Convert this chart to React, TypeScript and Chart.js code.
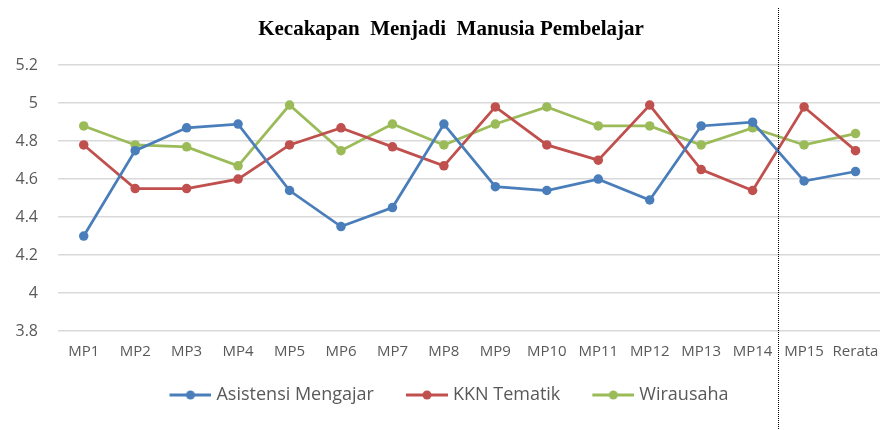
import { useEffect, useRef } from "react";
import { Chart, registerables } from "chart.js";

Chart.register(...registerables);

const categories = ["MP1", "MP2", "MP3", "MP4", "MP5", "MP6", "MP7", "MP8", "MP9", "MP10", "MP11", "MP12", "MP13", "MP14", "MP15", "Rerata"];
const asistensiMengajar = [4.30, 4.75, 4.87, 4.89, 4.54, 4.35, 4.45, 4.89, 4.56, 4.54, 4.60, 4.49, 4.88, 4.90, 4.59, 4.64];
const kknTematik = [4.78, 4.55, 4.55, 4.60, 4.78, 4.87, 4.77, 4.67, 4.98, 4.78, 4.70, 4.99, 4.65, 4.54, 4.98, 4.75];
const wirausaha = [4.88, 4.78, 4.77, 4.67, 4.99, 4.75, 4.89, 4.78, 4.89, 4.98, 4.88, 4.88, 4.78, 4.87, 4.78, 4.84];
const seriesNames = ["Asistensi Mengajar", "KKN Tematik", "Wirausaha"];
const seriesColors = ["#4a7ebb", "#c0504d", "#9bbb59"];
const yMin = 3.8;
const yMax = 5.2;
const yStep = 0.2;
const chartTitle = "Kecakapan  Menjadi  Manusia Pembelajar";
const dividerAfterIndex = 13;

const MARKER_GAP = 11;

function makeMarker(color: string): HTMLCanvasElement {
  const c = document.createElement("canvas");
  c.width = 42 + MARKER_GAP;
  c.height = 12;
  const ctx = c.getContext("2d")!;
  ctx.strokeStyle = color;
  ctx.lineWidth = 3;
  ctx.beginPath();
  ctx.moveTo(MARKER_GAP, 6);
  ctx.lineTo(MARKER_GAP + 42, 6);
  ctx.stroke();
  ctx.fillStyle = color;
  ctx.beginPath();
  ctx.arc(MARKER_GAP + 21, 6, 4.5, 0, Math.PI * 2);
  ctx.fill();
  return c;
}

const layoutPlugin = {
  id: "layoutTweak",
  afterLayout(chart: any) {
    if (chart.scales.y) chart.scales.y.left = 0;
    if (chart.legend) chart.legend.left -= MARKER_GAP + 4;
    if (chart.titleBlock) chart.titleBlock.right -= 4;
  },
};

const dividerPlugin = {
  id: "divider",
  afterDraw(chart: any) {
    const xs = chart.scales.x;
    const x = Math.round((xs.getPixelForValue(dividerAfterIndex) + xs.getPixelForValue(dividerAfterIndex + 1)) / 2) + 0.5;
    const ctx = chart.ctx;
    ctx.save();
    ctx.strokeStyle = "#000000";
    ctx.lineWidth = 1;
    ctx.setLineDash([1, 1]);
    ctx.beginPath();
    ctx.moveTo(x, 8);
    ctx.lineTo(x, chart.height);
    ctx.stroke();
    ctx.restore();
  },
};

export default function App() {
  const ref = useRef<HTMLCanvasElement>(null);
  useEffect(() => {
    document.body.style.margin = "0";
    const markers = seriesColors.map(makeMarker);
    const datasets = [asistensiMengajar, kknTematik, wirausaha].map((d, i) => ({
      label: seriesNames[i],
      data: d,
      borderColor: seriesColors[i],
      backgroundColor: seriesColors[i],
      borderWidth: 2.75,
      pointRadius: 4.75,
      pointBorderWidth: 0,
      pointBackgroundColor: seriesColors[i],
      tension: 0,
    }));
    const chart = new Chart(ref.current!, {
      type: "line",
      data: { labels: categories, datasets },
      plugins: [layoutPlugin, dividerPlugin],
      options: {
        animation: false,
        responsive: false,
        maintainAspectRatio: false,
        layout: { padding: { left: 20, right: 0, top: 0, bottom: 16 } },
        plugins: {
          title: {
            display: true,
            text: chartTitle,
            color: "#000000",
            font: { family: "'Liberation Serif', serif", size: 21, weight: "bold" },
            padding: { top: 17, bottom: 23 },
          },
          legend: {
            position: "bottom",
            labels: {
              usePointStyle: true,
              pointStyleWidth: 34 + MARKER_GAP,
              color: "#595959",
              font: { family: "'Open Sans', sans-serif", size: 18 },
              padding: 25,
              generateLabels: () =>
                seriesNames.map((n, i) => ({
                  text: n,
                  fillStyle: seriesColors[i],
                  strokeStyle: seriesColors[i],
                  lineWidth: 0,
                  pointStyle: markers[i],
                  hidden: false,
                  datasetIndex: i,
                  fontColor: "#595959",
                })),
            },
          },
          tooltip: { enabled: false },
        },
        scales: {
          x: {
            offset: true,
            grid: { display: false, drawTicks: false },
            border: { display: false },
            afterFit: (s: any) => {
              s.height = 30;
              s.paddingLeft = 0;
              s.paddingRight = 0;
            },
            ticks: {
              color: "#595959",
              font: { family: "'Open Sans', sans-serif", size: 15 },
              padding: 12,
              autoSkip: false,
              maxRotation: 0,
            },
          },
          y: {
            min: yMin,
            max: yMax,
            border: { display: false },
            grid: { color: "#d9d9d9", lineWidth: 1.5, drawTicks: false },
            afterFit: (s: any) => {
              s.width = 38;
            },
            ticks: {
              stepSize: yStep,
              color: "#595959",
              font: { family: "'Open Sans', sans-serif", size: 16 },
              padding: 20,
              callback: (v: any) => String(Number(Number(v).toFixed(1))),
            },
          },
        },
      },
    });
    return () => chart.destroy();
  }, []);
  return (
    <div style={{ width: 880, height: 430, overflow: "hidden", position: "relative", background: "#ffffff" }}>
      <canvas ref={ref} width={886} height={430} style={{ position: "absolute", left: 0, top: 0, width: 886, height: 430 }} />
    </div>
  );
}
